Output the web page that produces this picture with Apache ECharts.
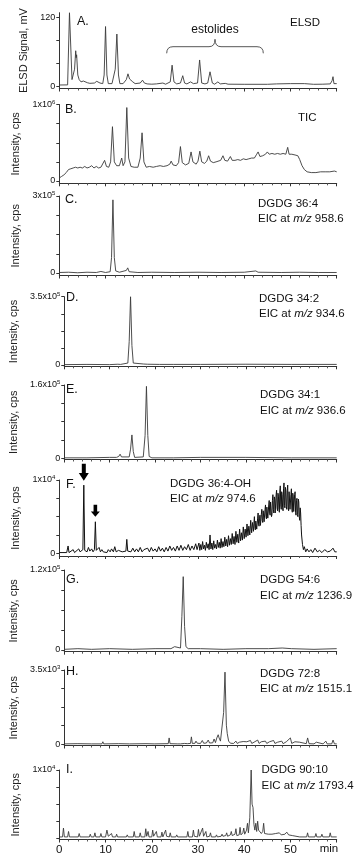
<!DOCTYPE html>
<html><head><meta charset="utf-8">
<script src="https://cdn.jsdelivr.net/npm/echarts@6/dist/echarts.min.js"></script>
<style>html,body{margin:0;padding:0;background:#fff}#c{width:355px;height:857px}</style>
</head><body><div id="c"></div>
<script>
// ---------- DATA (time in min, value in axis units) ----------
const elsdA = [[0,2.6],[1.8,2.8],[2.1,3],[2.2,128],[2.6,128],[2.75,12],[3.0,10],[3.3,30],[3.55,62],[3.65,50],[3.75,55],[4.0,20],[4.3,12],[4.7,8],[5.2,9.5],[5.6,7],[6.1,6.5],[6.6,5.5],[7.0,6],[7.6,6],[8.1,9],[8.4,12],[8.8,6],[9.4,5],[9.7,20],[10.0,104],[10.3,20],[10.6,5],[11.4,5],[12.1,30],[12.45,91],[12.8,20],[13.1,5],[13.8,5],[14.5,12],[14.85,22],[15.2,13],[15.5,14],[15.9,8],[16.4,5],[17.5,6],[18.0,11],[18.4,6],[19,4.5],[20,4],[21,4.5],[22.4,6],[23,4],[24,8],[24.4,37],[24.8,8],[25.4,4.5],[26.2,6],[26.7,18.7],[27.1,6],[27.6,4.5],[28.4,8],[29,5],[29.9,6],[30.35,46],[30.8,6],[31.5,4.5],[32.1,6],[32.6,25.5],[33.1,6],[33.6,4],[34.3,8],[34.8,4.5],[35.9,5.4],[36.5,4],[40,3.8],[45,3.8],[47,4.5],[50,5],[53,5],[55,3.8],[57,4],[58.6,4.5],[59.0,10],[59.2,17],[59.4,5],[60,5]];
const ticB = [[0,0.04],[0.5,0.06],[1,0.08],[1.5,0.11],[2.0,0.15],[2.5,0.16],[3,0.17],[3.5,0.18],[4,0.17],[4.5,0.18],[5,0.17],[5.5,0.19],[6,0.17],[6.5,0.18],[7,0.2],[7.5,0.17],[8,0.19],[8.5,0.17],[9,0.18],[9.4,0.19],[9.8,0.27],[10.2,0.19],[10.7,0.18],[11.1,0.25],[11.5,0.71],[11.9,0.25],[12.4,0.2],[13.0,0.2],[13.5,0.3],[13.8,0.2],[14.2,0.25],[14.6,0.96],[15.0,0.3],[15.5,0.19],[16.2,0.18],[17.0,0.18],[17.5,0.3],[17.9,0.63],[18.3,0.25],[18.8,0.18],[19.5,0.19],[20.3,0.18],[21,0.19],[21.8,0.2],[22.5,0.19],[23.3,0.2],[23.9,0.22],[24.2,0.26],[24.6,0.21],[25.3,0.2],[25.8,0.24],[26.2,0.45],[26.6,0.24],[27.3,0.21],[28,0.23],[28.5,0.38],[28.9,0.25],[29.6,0.22],[30.0,0.26],[30.4,0.39],[30.8,0.25],[31.4,0.23],[31.9,0.26],[32.3,0.33],[32.7,0.26],[33.3,0.24],[33.9,0.25],[34.3,0.23],[34.9,0.27],[35.4,0.33],[35.8,0.27],[36.4,0.26],[37.0,0.32],[37.4,0.27],[38,0.27],[38.6,0.28],[39.2,0.27],[39.8,0.29],[40.4,0.28],[41,0.29],[41.6,0.3],[42.2,0.3],[42.7,0.35],[43.0,0.38],[43.4,0.32],[44,0.33],[44.6,0.35],[45.0,0.38],[45.4,0.35],[46,0.36],[46.6,0.35],[47.2,0.36],[47.8,0.35],[48.4,0.36],[49.0,0.35],[49.4,0.44],[49.7,0.35],[50.3,0.35],[51,0.34],[51.6,0.33],[52.0,0.28],[52.5,0.2],[53.0,0.15],[53.6,0.12],[54.5,0.11],[55.5,0.11],[56.5,0.12],[57.5,0.12],[58.5,0.12],[59.5,0.13],[60,0.12]];
const eicC = [[0,0.02],[2,0.03],[4,0.01],[6,0.03],[8,0.02],[9,0.06],[10,0.02],[11,0.05],[11.3,0.6],[11.6,2.85],[11.9,0.6],[12.2,0.08],[13,0.03],[14.5,0.1],[14.8,0.2],[15.1,0.05],[17,0.02],[20,0.03],[25,0.02],[30,0.03],[35,0.02],[40,0.03],[42.5,0.08],[43,0.03],[48,0.02],[52,0.03],[56,0.02],[60,0.02]];
const eicD = [[0,0.02],[5,0.03],[10,0.02],[11.8,0.04],[12.1,0.08],[12.4,0.03],[14.0,0.1],[14.3,1.2],[14.6,3.5],[14.9,1.0],[15.2,0.1],[15.6,0.04],[17.5,0.05],[17.9,0.14],[18.3,0.04],[21,0.03],[24.0,0.03],[24.2,0.08],[24.4,0.03],[30,0.03],[40,0.04],[50,0.03],[60,0.03]];
const eicE = [[0,0.01],[5,0.01],[10,0.02],[11.5,0.02],[12.0,0.04],[12.3,0.09],[12.6,0.03],[14.3,0.03],[14.6,0.2],[14.9,0.51],[15.2,0.15],[15.5,0.02],[17.4,0.03],[17.8,0.5],[18.1,1.57],[18.4,0.5],[18.7,0.04],[19.3,0.01],[24.0,0.01],[24.2,0.04],[24.4,0.01],[30,0.02],[40,0.02],[50,0.01],[60,0.01]];
const eicF = [[0,0.01],[0.4,0.02],[0.8,0.01],[1.2,0.03],[1.6,0.01],[1.9,0.1],[2.1,0.01],[2.5,0.02],[3.0,0.05],[3.3,0.01],[3.7,0.03],[4.2,0.06],[4.5,0.02],[4.9,0.04],[5.1,0.05],[5.3,0.93],[5.5,0.04],[5.8,0.06],[6.0,0.02],[6.3,0.08],[6.6,0.03],[7.0,0.06],[7.3,0.02],[7.6,0.05],[7.8,0.43],[8.0,0.04],[8.3,0.02],[8.6,0.08],[8.9,0.02],[9.2,0.05],[9.5,0.02],[9.9,0.04],[10.3,0.01],[10.6,0.05],[11.0,0.02],[11.3,0.06],[11.7,0.02],[12.0,0.09],[12.3,0.02],[12.8,0.04],[13.2,0.06],[13.6,0.02],[14.0,0.04],[14.4,0.03],[14.6,0.19],[14.8,0.03],[15.2,0.05],[15.5,0.02],[15.9,0.07],[16.3,0.02],[16.7,0.06],[17.1,0.02],[17.5,0.08],[17.9,0.02],[18.3,0.05],[18.7,0.03],[19.1,0.07],[19.5,0.02],[19.9,0.08],[20.3,0.03],[20.7,0.06],[21.1,0.02],[21.5,0.09],[21.9,0.03],[22.3,0.07],[22.7,0.02],[23.1,0.08],[23.5,0.03],[23.9,0.1],[24.3,0.04],[24.7,0.08],[25.1,0.03],[25.5,0.1],[25.9,0.04],[26.3,0.11],[26.7,0.04],[27.1,0.09],[27.5,0.05],[27.9,0.12],[28.3,0.04],[28.7,0.1],[29.1,0.05],[29.5,0.13],[29.8,0.05],
[30.0,0.06],[30.2,0.14],[30.4,0.04],[30.6,0.12],[30.8,0.05],[31.0,0.16],[31.2,0.06],[31.4,0.11],[31.6,0.04],[31.8,0.15],[32.0,0.07],[32.2,0.13],[32.4,0.05],[32.6,0.25],[32.8,0.06],[33.0,0.14],[33.2,0.05],[33.4,0.17],[33.6,0.07],[33.8,0.12],[34.0,0.06],[34.2,0.18],[34.4,0.08],[34.6,0.15],[34.8,0.07],[35.0,0.2],[35.2,0.08],[35.4,0.16],[35.6,0.09],[35.8,0.22],[36.0,0.1],[36.2,0.19],[36.4,0.09],[36.6,0.24],[36.8,0.11],[37.0,0.2],[37.2,0.12],[37.4,0.27],[37.6,0.13],[37.8,0.23],[38.0,0.12],[38.2,0.3],[38.4,0.15],[38.6,0.26],[38.8,0.14],[39.0,0.33],[39.2,0.17],[39.4,0.28],[39.6,0.18],[39.8,0.36],[40.0,0.2],[40.2,0.33],[40.4,0.22],[40.6,0.4],[40.8,0.24],[41.0,0.37],[41.2,0.25],[41.4,0.45],[41.6,0.28],[41.8,0.42],[42.0,0.3],[42.1,0.41],[42.2,0.5],[42.3,0.36],[42.4,0.32],[42.5,0.44],[42.6,0.46],[42.7,0.33],[42.8,0.35],[42.9,0.48],[43.0,0.55],[43.1,0.4],[43.2,0.37],[43.3,0.47],[43.4,0.52],[43.5,0.38],[43.6,0.4],[43.7,0.53],[43.8,0.6],[43.9,0.45],[44.0,0.42],[44.1,0.58],[44.2,0.56],[44.3,0.43],[44.4,0.44],[44.5,0.6],[44.6,0.66],[44.7,0.5],[44.8,0.47],[44.9,0.63],[45.0,0.62],[45.1,0.48],[45.2,0.5],[45.3,0.66],[45.4,0.72],[45.5,0.55],[45.6,0.52],[45.7,0.7],[45.8,0.68],[45.9,0.5],[46.0,0.53],[46.1,0.72],[46.2,0.8],[46.3,0.6],[46.4,0.55],[46.5,0.77],[46.6,0.74],[46.7,0.55],[46.8,0.57],[46.9,0.8],[47.0,0.86],[47.1,0.62],[47.2,0.58],[47.3,0.82],[47.4,0.78],[47.5,0.6],[47.6,0.56],[47.7,0.85],[47.8,0.92],[47.9,0.66],[48.0,0.6],[48.1,0.84],[48.2,0.8],[48.3,0.62],[48.4,0.58],[48.5,0.88],[48.6,0.96],[48.7,0.65],[48.8,0.62],[48.9,0.9],[49.0,0.85],[49.1,0.64],[49.2,0.6],[49.3,0.86],[49.4,0.93],[49.5,0.62],[49.6,0.58],[49.7,0.84],[49.8,0.82],[49.9,0.6],[50.0,0.6],[50.1,0.8],[50.2,0.88],[50.3,0.6],[50.4,0.56],[50.5,0.82],[50.6,0.78],[50.7,0.57],[50.8,0.55],[50.9,0.8],[51.0,0.84],[51.1,0.56],[51.2,0.52],[51.3,0.72],[51.4,0.75],[51.5,0.53],[51.6,0.5],[51.7,0.74],[51.8,0.7],[51.9,0.5],[52.0,0.45],[52.1,0.62],[52.2,0.55],[52.3,0.38],[52.4,0.25],[52.6,0.12],[52.8,0.05],[53.0,0.09],[53.3,0.02],[53.6,0.06],[54.0,0.02],[54.4,0.05],[54.8,0.01],[55.3,0.07],[55.8,0.02],[56.3,0.04],[56.8,0.01],[57.4,0.05],[58,0.02],[58.6,0.03],[59.2,0.07],[59.6,0.02],[60,0.02]];
const eicG = [[0,0.01],[3,0.02],[6,0.01],[10,0.02],[15,0.01],[20,0.02],[23.5,0.02],[24.3,0.05],[24.6,0.02],[25.6,0.03],[25.9,0.5],[26.2,1.1],[26.5,0.35],[26.8,0.05],[27.3,0.02],[30,0.02],[35,0.01],[40,0.02],[45,0.02],[48,0.03],[50,0.02],[55,0.01],[60,0.02]];
const eicH = [[0,0.02],[3,0.03],[6,0.02],[8.3,0.02],[8.5,0.12],[8.7,0.02],[12,0.03],[14.4,0.02],[14.6,0.1],[14.8,0.02],[18,0.03],[19.8,0.02],[20,0.1],[20.2,0.02],[22.9,0.03],[23.1,0.3],[23.3,0.03],[25,0.02],[25.3,0.1],[25.6,0.02],[26.5,0.04],[26.8,0.12],[27.1,0.03],[27.8,0.04],[28.0,0.35],[28.2,0.04],[28.8,0.05],[29.0,0.15],[29.3,0.05],[29.7,0.12],[30.0,0.04],[30.4,0.18],[30.7,0.05],[31.0,0.14],[31.3,0.06],[31.7,0.2],[32.0,0.06],[32.4,0.15],[32.7,0.07],[33.0,0.25],[33.3,0.08],[33.6,0.3],[33.9,0.45],[34.1,0.3],[34.4,0.15],[34.8,0.2],[35.1,1.5],[35.4,3.4],[35.7,0.9],[35.9,0.5],[36.2,0.15],[36.6,0.05],[37,0.12],[37.3,0.04],[37.8,0.15],[38.1,0.04],[38.6,0.1],[38.9,0.03],[39.4,0.13],[39.7,0.04],[40.2,0.12],[40.5,0.03],[41.0,0.18],[41.3,0.04],[41.8,0.1],[42.1,0.03],[42.6,0.2],[42.9,0.04],[43.4,0.12],[43.7,0.03],[44.3,0.15],[44.6,0.04],[45.2,0.12],[45.5,0.03],[46.1,0.18],[46.4,0.04],[47,0.1],[47.3,0.03],[47.9,0.15],[48.2,0.03],[48.9,0.12],[49.2,0.03],[49.8,0.3],[50.1,0.04],[50.8,0.12],[51.1,0.03],[51.8,0.1],[52.1,0.03],[53.3,0.03],[53.6,0.3],[53.9,0.03],[55,0.02],[55.5,0.1],[55.8,0.02],[57,0.02],[57.6,0.15],[57.9,0.02],[58.9,0.02],[59.2,0.2],[59.5,0.02],[60,0.02]];
const eicI = [[0,0.02],[0.7,0.02],[0.9,0.15],[1.1,0.02],[1.8,0.02],[2.0,0.1],[2.2,0.02],[4.1,0.02],[4.3,0.07],[4.5,0.02],[6.5,0.02],[6.7,0.06],[6.9,0.02],[7.5,0.02],[7.7,0.08],[7.9,0.02],[8.8,0.02],[9.0,0.07],[9.2,0.02],[10.0,0.02],[10.3,0.12],[10.6,0.03],[11,0.02],[11.3,0.07],[11.5,0.02],[12.2,0.02],[12.4,0.06],[12.6,0.02],[14.5,0.02],[14.7,0.05],[14.9,0.02],[16,0.02],[16.2,0.1],[16.4,0.02],[17.3,0.02],[17.5,0.08],[17.7,0.02],[18.5,0.02],[18.7,0.14],[18.9,0.03],[19.2,0.1],[19.4,0.02],[20,0.02],[20.2,0.12],[20.4,0.03],[21,0.1],[21.2,0.02],[22,0.02],[22.2,0.09],[22.4,0.02],[23.0,0.12],[23.2,0.03],[23.8,0.02],[24.0,0.08],[24.2,0.02],[25.2,0.02],[25.4,0.05],[25.6,0.02],[27.6,0.02],[27.8,0.1],[28.0,0.02],[28.8,0.02],[29.0,0.12],[29.2,0.03],[29.9,0.02],[30.1,0.13],[30.3,0.03],[31.0,0.15],[31.2,0.03],[31.7,0.1],[31.9,0.02],[32.5,0.03],[32.7,0.08],[32.9,0.02],[33.8,0.02],[34.0,0.05],[34.2,0.02],[35,0.03],[35.2,0.06],[35.4,0.03],[36,0.04],[36.2,0.08],[36.4,0.03],[37,0.05],[37.2,0.1],[37.4,0.04],[38,0.06],[38.2,0.14],[38.4,0.04],[38.9,0.05],[39.1,0.16],[39.3,0.05],[39.7,0.08],[39.9,0.15],[40.1,0.06],[40.5,0.12],[40.7,0.22],[40.9,0.08],[41.2,0.3],[41.5,1.0],[41.7,0.5],[41.9,0.45],[42.1,0.2],[42.3,0.12],[42.5,0.22],[42.7,0.1],[42.9,0.25],[43.1,0.12],[43.4,0.1],[43.7,0.07],[44.0,0.1],[44.2,0.22],[44.4,0.07],[44.8,0.05],[45.2,0.06],[45.6,0.04],[46,0.06],[46.4,0.04],[46.8,0.07],[47.2,0.05],[47.6,0.08],[48,0.05],[48.4,0.07],[48.8,0.06],[49.2,0.09],[49.6,0.05],[50,0.07],[50.4,0.04],[50.8,0.06],[51.2,0.03],[51.6,0.05],[52,0.02],[53.5,0.02],[53.7,0.08],[53.9,0.02],[55.3,0.02],[55.5,0.07],[55.7,0.02],[56.6,0.02],[56.8,0.06],[57,0.02],[58.4,0.02],[58.6,0.08],[58.8,0.02],[60,0.02]];

const seriesData = [elsdA, ticB, eicC, eicD, eicE, eicF, eicG, eicH, eicI];
const yAxisTop   = [128, 1, 3, 3.5, 1.6, 1, 1.2, 3.5, 1];      // value at top of each y axis
const yLabelMax  = [120, 1, 3, 3.5, 1.6, 1, 1.2, 3.5, 1];      // labelled value
const yLabelMant = ['120','1x10','3x10','3.5x10','1.6x10','1x10','1.2x10','3.5x10','1x10'];
const yLabelExp  = ['', '6','5','5','5','4','5','3','4'];
const yNames     = ['ELSD Signal, mV','Intensity, cps','Intensity, cps','Intensity, cps','Intensity, cps','Intensity, cps','Intensity, cps','Intensity, cps','Intensity, cps'];
const xTickLabels = ['0','10','20','30','40','50',''];
const xUnit = 'min';
const panelLetters = ['A.','B.','C.','D.','E.','F.','G.','H.','I.'];
const compounds = ['ELSD','TIC','DGDG 36:4','DGDG 34:2','DGDG 34:1','DGDG 36:4-OH','DGDG 54:6','DGDG 72:8','DGDG 90:10'];
const eicMz = ['', '', '958.6','934.6','936.6','974.6','1236.9','1515.1','1793.4'];
const arrowPeaksF = [[5.3,0.93],[7.8,0.43]];

// ---------- LAYOUT (pixels) ----------
const pan = [[12.7,86.5,88.5],[104.5,181,183.3],[196,273,275.5],[296.7,365,366.3],[385,458.3,459.5],[480,553.3,556],[570,650,651.7],[670,744.3,745.5],[770,838.3,839.5]];
const letterPos = [[77,22],[65,110],[65,200],[66,298],[66,390],[66,485],[66,580],[66,672],[66,770]];
const annPos = [[290,23],[298,118],[258,203.5],[259,298.5],[260,395],[170,483.5],[260,580],[260,673.5],[261.5,770]];
const FONT = 'Liberation Sans, Arial, Helvetica, sans-serif';
const LEFT = 59.3, RIGHT_EDGE = 336.7;

const chart = echarts.init(document.getElementById('c'), null, {renderer:'canvas'});
const grids=[], xAxes=[], yAxes=[], series=[], graphics=[];

for (let i=0;i<9;i++){
  const [tp, zp, ap] = pan[i];
  const scale = (zp - tp)/yAxisTop[i];
  const ymin = -(ap - zp)/scale;
  grids.push({left:LEFT, width:RIGHT_EDGE-LEFT, top:tp, height:ap-tp});
  xAxes.push({type:'value', gridIndex:i, min:0, max:60, interval:10,
    axisLine:{show:true, onZero:false, lineStyle:{color:'#333', width:1}},
    axisTick:{show:true, length:3, lineStyle:{color:'#333'}},
    minorTick:{show:true, splitNumber:5, length:2, lineStyle:{color:'#555'}},
    splitLine:{show:false}, minorSplitLine:{show:false},
    axisLabel:{show:i===8, fontSize:11.5, color:'#111', fontFamily:FONT, margin:4,
      formatter:(v)=>xTickLabels[Math.round(v/10)]}
  });
  const m = yLabelMax[i];
  const ticks = i===0 ? [0,40,80,120] : [0, m/4, m/2, 3*m/4, m];
  const labels = i===8 ? [m] : [0, m];
  yAxes.push({type:'value', gridIndex:i, min:ymin, max:yAxisTop[i],
    name:yNames[i], nameLocation:'middle', nameGap:28,
    nameTextStyle:{fontSize:11, color:'#222', fontFamily:FONT},
    axisLine:{show:true, onZero:false, lineStyle:{color:'#333', width:1}},
    axisTick:{show:true, length:3, customValues:ticks, lineStyle:{color:'#333'}},
    splitLine:{show:false},
    axisLabel:{show:true, customValues:labels, margin:4, color:'#111', fontFamily:FONT, fontSize:9,
      formatter:(v)=> v===0 ? '0' : (yLabelExp[i] ? '{a|'+yLabelMant[i]+'}{s|'+yLabelExp[i]+'}' : yLabelMant[i]),
      rich:{a:{fontSize:9, fontFamily:FONT, color:'#111', lineHeight:11}, s:{fontSize:6, fontFamily:FONT, color:'#111', verticalAlign:'top', lineHeight:6}}
    }
  });
  const s = {type:'line', xAxisIndex:i, yAxisIndex:i, data:seriesData[i], showSymbol:false, symbol:'none',
    lineStyle:{color: i===5 ? '#111' : '#3a3a3a', width: i===5 ? 1.0 : 0.9}, animation:false, clip:true, silent:true};
  if (i===5){
    s.markPoint = {symbol:'path://M3,0 L7,0 L7,10 L10,10 L5,18 L0,10 L3,10 Z', silent:true,
      label:{show:false}, itemStyle:{color:'#000'},
      data:[{coord:arrowPeaksF[0], symbolSize:[10,17], symbolOffset:[0,-13]},
            {coord:arrowPeaksF[1], symbolSize:[9,12], symbolOffset:[0,-11]}]};
  }
  series.push(s);

  graphics.push({type:'text', x:letterPos[i][0], y:letterPos[i][1], silent:true,
    style:{text:panelLetters[i], fontSize:12.5, fontFamily:FONT, fill:'#111', verticalAlign:'middle'}});
  graphics.push({type:'text', x:annPos[i][0], y:annPos[i][1], silent:true,
    style:{text:compounds[i], fontSize:11.5, fontFamily:FONT, fill:'#111', verticalAlign:'middle'}});
  if (eicMz[i]){
    graphics.push({type:'text', x:annPos[i][0], y:annPos[i][1]+15.5, silent:true,
      style:{text:'EIC at {it|m/z} '+eicMz[i], fontSize:11.5, fontFamily:FONT, fill:'#111', verticalAlign:'middle',
        rich:{it:{fontStyle:'italic', fontSize:11.5, fontFamily:FONT, fill:'#111'}}}});
  }
}
// x-axis unit label under the bottom panel
graphics.push({type:'text', x:329, y:849, silent:true,
  style:{text:xUnit, fontSize:11.5, fontFamily:FONT, fill:'#111', align:'center', verticalAlign:'middle'}});
// estolides brace (panel A)
const braceStyle = {stroke:'#444', lineWidth:0.9, fill:null};
const braceCurves = [
  [166.7,53.3, 173,46.7, 166.7,46.7],
  [209,46.7, 215,39.3, 215,46.7],
  [215,39.3, 221,46.7, 215,46.7],
  [257,46.7, 263.3,53.3, 263.3,46.7]
];
braceCurves.forEach(c=>graphics.push({type:'bezierCurve', silent:true,
  shape:{x1:c[0],y1:c[1],x2:c[2],y2:c[3],cpx1:c[4],cpy1:c[5]}, style:braceStyle}));
graphics.push({type:'line', silent:true, shape:{x1:173,y1:46.7,x2:209,y2:46.7}, style:braceStyle});
graphics.push({type:'line', silent:true, shape:{x1:221,y1:46.7,x2:257,y2:46.7}, style:braceStyle});
graphics.push({type:'text', x:215, y:29.5, silent:true,
  style:{text:'estolides', fontSize:12, fontFamily:FONT, fill:'#111', align:'center', verticalAlign:'middle'}});

chart.setOption({animation:false, backgroundColor:'#fff', grid:grids, xAxis:xAxes, yAxis:yAxes, series:series, graphic:graphics});
</script></body></html>
